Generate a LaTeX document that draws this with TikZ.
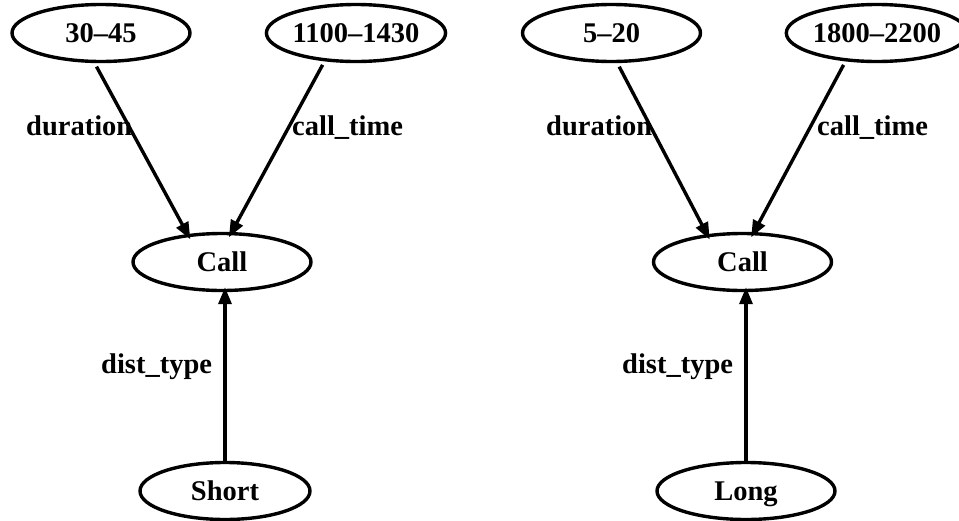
\documentclass[tikz,border=0pt]{standalone}
\usepackage{fontspec}
\setmainfont{Liberation Serif}
\usetikzlibrary{arrows.meta,shapes.geometric}
\tikzset{
  val/.style={ellipse, draw, line width=3.4pt, inner sep=0pt,
              minimum width=178pt, minimum height=57pt, text depth=0pt,
              font=\fontsize{28.5}{31}\selectfont\bfseries},
  lbl/.style={anchor=base west, inner sep=0pt,
              font=\fontsize{28.5}{31}\selectfont\bfseries},
  arr/.style={line width=3.4pt, -{Triangle[length=17pt,width=13pt]},
              shorten <=4pt, shorten >=-6pt},
  varr/.style={line width=3.4pt, -{Triangle[length=17pt,width=13pt]},
              shorten >=-5pt}
}
\begin{document}
\begin{tikzpicture}[x=1pt,y=-1pt]
\useasboundingbox (0,0) rectangle (959,520);
\clip (0,0) rectangle (959,520);
% left graph
\node[val] (a1) at (101,33) {30–45};
\node[val] (a2) at (356,33) {1100–1430};
\node[val] (c1) at (222,262) {Call};
\node[val, minimum width=170pt] (s1) at (225,491) {Short};
\draw[arr] (a1.258) -- (c1.141);
\draw[arr] (a2.222) -- (c1.72);
\draw[varr] (s1.north) -- (s1.north |- c1.south);
\node[lbl] (l1) at (26,135) {duration};
\node[lbl] (l2) at (292,135) {call\_time};
\node[lbl] (l3) at (101,373) {dist\_type};
% right graph
\node[val] (b1) at (611.5,33) {5–20};
\node[val] (b2) at (877,33) {1800–2200};
\node[val] (c2) at (742.5,262) {Call};
\node[val] (s2) at (746,491) {Long};
\draw[arr] (b1.281) -- (c2.142);
\draw[arr] (b2.222) -- (c2.69);
\draw[varr] (s2.north) -- (s2.north |- c2.south);
\node[lbl] (r1) at (546,135) {duration};
\node[lbl] (r2) at (817,135) {call\_time};
\node[lbl] (r3) at (622,373) {dist\_type};
\end{tikzpicture}
\end{document}
